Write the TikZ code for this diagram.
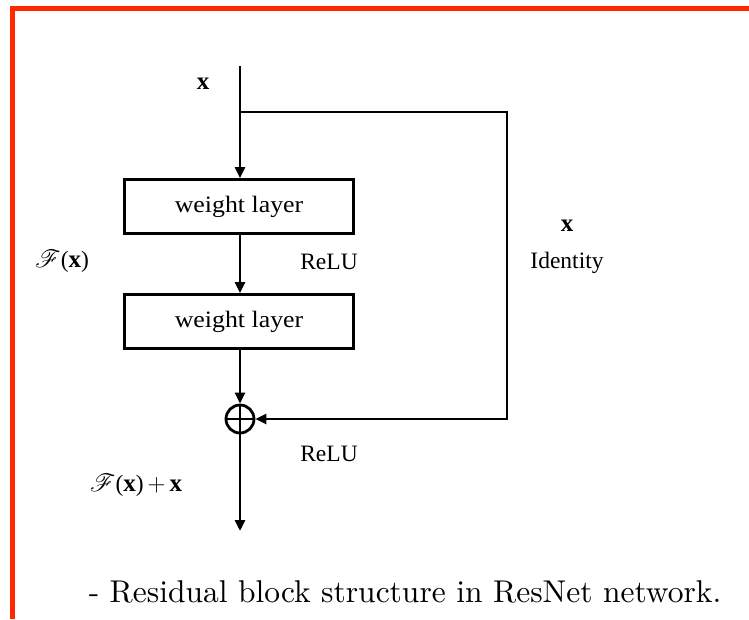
\documentclass[tikz,border=0pt]{standalone}
\usepackage{fontspec}
\usepackage{mathrsfs}
\usetikzlibrary{arrows.meta}
\newfontfamily\tnr{Liberation Serif}
\newfontfamily\lmten{lmroman10-regular.otf}
\newcommand{\bx}{{\fontsize{25}{28}\selectfont\textbf{x}}}
\newcommand{\scF}{{\fontsize{25}{28}\selectfont$\mathscr{F}$}}
\newcommand{\bplus}{{\fontsize{27}{28}\selectfont$+$}}
\definecolor{framered}{RGB}{255,40,0}
\tikzset{
  lbl/.style={font=\tnr\fontsize{23.5}{27}\selectfont, inner sep=0pt},
  layerbox/.style={draw, line width=2.8pt, minimum width=229pt, minimum height=54pt, inner sep=0pt, font=\tnr\fontsize{23.5}{27}\selectfont},
  conn/.style={line width=2.8pt},
  arr/.style={conn, -{Triangle[length=11pt,width=10pt]}},
  plusnode/.style={draw, circle, line width=2.8pt, minimum size=28pt, inner sep=0pt},
}
\begin{document}
\begin{tikzpicture}[x=1pt,y=-1pt]
\useasboundingbox (0,0) rectangle (749,619);
% red frame
\draw[framered, line width=5pt] (12,8.5) -- (749,8.5);
\draw[framered, line width=5pt] (12,6) -- (12,619);
% nodes
\coordinate (top) at (240,66);
\coordinate (branch) at (240,112);
\coordinate (c1) at (507,112);
\coordinate (c2) at (507,419);
\coordinate (out) at (240,531);
\node[layerbox] (w1) at (239,206.5) {\scalebox{1.1}[1]{weight layer}};
\node[layerbox] (w2) at (239,321.5) {\scalebox{1.1}[1]{weight layer}};
\node[plusnode] (plus) at (240,419) {};
\draw[conn] (plus.north) -- (plus.south);
\draw[conn] (plus.west) -- (plus.east);
% connectors
\draw[arr] (top) -- (w1.north -| top);
\draw[arr] (w1.south -| top) -- (w2.north -| top);
\draw[arr] (w2.south -| top) -- (plus.north);
\draw[arr] (branch) -- (c1) -- (c2) -- (plus.east);
\draw[arr] (plus.south) -- (out);
% labels
\node[lbl] (xin) at (203,84) {\bx};
\node[lbl] (fx) at (62,261) {\scF(\bx)};
\node[lbl] (relu1) at (329,262) {ReLU};
\node[lbl] (xid) at (567,226) {\bx};
\node[lbl] (ident) at (567,263) {Identity};
\node[lbl] (relu2) at (329,454) {ReLU};
\node[lbl] (fxx) at (136,485) {\scF(\bx)\hspace{4pt}\bplus\hspace{4pt}\bx};
\node[inner sep=0pt, font=\lmten\fontsize{31.5}{36}\selectfont] (cap) at (405,592) {- Residual block structure in ResNet network.};
\end{tikzpicture}
\end{document}
